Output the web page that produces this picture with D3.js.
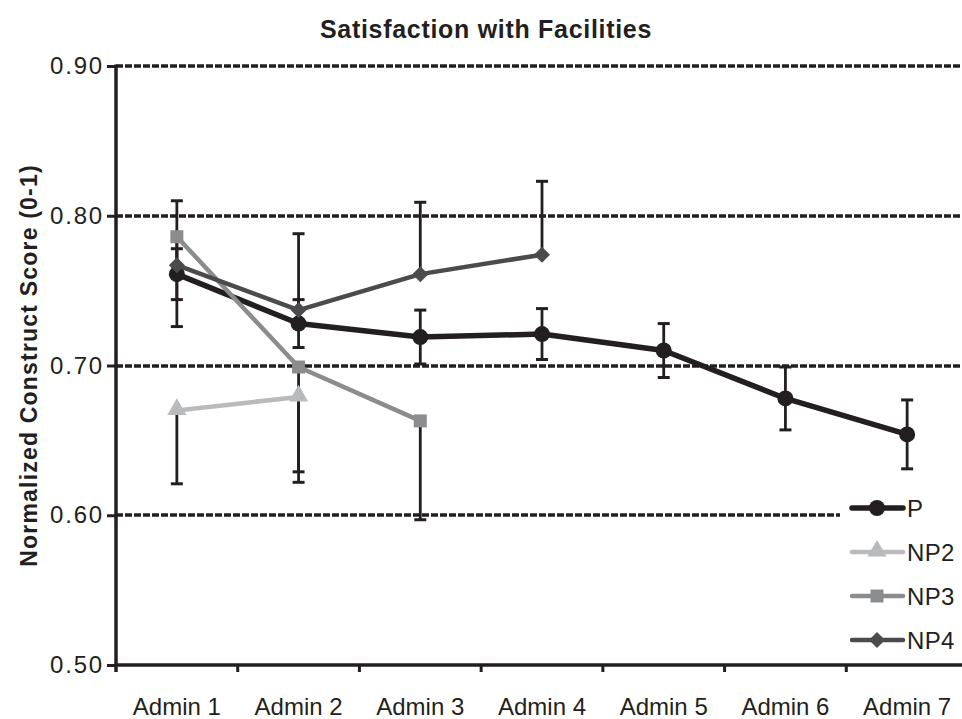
<!DOCTYPE html>
<html>
<head>
<meta charset="utf-8">
<script src="https://cdn.jsdelivr.net/npm/d3@7/dist/d3.min.js"></script>
<style>
  html, body { margin: 0; padding: 0; background: #fff; }
  svg { display: block; font-family: "Liberation Sans", Arial, Helvetica, sans-serif; }
</style>
</head>
<body>
<svg id="chart" width="962" height="719"></svg>
<script>
// ---- data ----
const categories = ["Admin 1", "Admin 2", "Admin 3", "Admin 4", "Admin 5", "Admin 6", "Admin 7"];
const yTicks = [0.50, 0.60, 0.70, 0.80, 0.90];

const seriesNames = ["P", "NP2", "NP3", "NP4"];
const valuesP   = [0.761, 0.728, 0.719, 0.721, 0.710, 0.678, 0.654];
const errP      = [0.017, 0.016, 0.018, 0.017, 0.018, 0.021, 0.023];   // symmetric
const valuesNP2 = [0.670, 0.679];
const errNP2    = [0.049, 0.050];                                        // minus only
const valuesNP3 = [0.786, 0.699, 0.663];
const errNP3    = [0.060, 0.077, 0.066];                                 // minus only
const valuesNP4 = [0.767, 0.737, 0.761, 0.774];
const errNP4    = [0.043, 0.051, 0.048, 0.049];                          // plus only

const series = [
  { name: seriesNames[0], values: valuesP,   err: errP,   dir: "both",  color: "#231f20", width: 5.5, marker: "circle" },
  { name: seriesNames[1], values: valuesNP2, err: errNP2, dir: "minus", color: "#b9babc", width: 4.5, marker: "triangle" },
  { name: seriesNames[2], values: valuesNP3, err: errNP3, dir: "minus", color: "#8b8c8e", width: 4.5, marker: "square" },
  { name: seriesNames[3], values: valuesNP4, err: errNP4, dir: "plus",  color: "#4b4b4d", width: 4.5, marker: "diamond" }
];

// ---- layout ----
const svg = d3.select("#chart");
const plotLeft = 116, plotRight = 968, plotTop = 66, plotBottom = 665, visibleRight = 962;
const ink = "#231f20";

const x = d3.scaleBand().domain(categories).range([plotLeft, plotRight]);
const y = d3.scaleLinear().domain([0.5, 0.9]).range([plotBottom, plotTop]);
const cx = c => x(c) + x.bandwidth() / 2;

// title
svg.append("text")
  .attr("x", 486).attr("y", 38)
  .attr("text-anchor", "middle")
  .attr("font-size", 25).attr("font-weight", "bold")
  .attr("letter-spacing", 0.7)
  .attr("fill", ink)
  .text("Satisfaction with Facilities");

// y axis title
svg.append("text")
  .attr("transform", `translate(37, ${(plotTop + plotBottom) / 2}) rotate(-90)`)
  .attr("text-anchor", "middle")
  .attr("font-size", 23).attr("font-weight", "bold")
  .attr("letter-spacing", 1.2)
  .attr("fill", ink)
  .text("Normalized Construct  Score (0-1)");

// gridlines (dashed)
svg.append("g").selectAll("line")
  .data(yTicks.filter(t => t > 0.5))
  .join("line")
  .attr("x1", plotLeft).attr("x2", visibleRight)
  .attr("y1", d => Math.round(y(d))).attr("y2", d => Math.round(y(d)))
  .attr("stroke", ink).attr("stroke-width", 3.5)
  .attr("stroke-dasharray", "7,2");

// y axis
const yAxis = svg.append("g")
  .attr("transform", `translate(${plotLeft},0)`)
  .call(d3.axisLeft(y).tickValues(yTicks).tickFormat(d3.format(".2f")).tickSize(9).tickPadding(3));
yAxis.select(".domain").remove();
yAxis.selectAll(".tick line").attr("stroke", ink).attr("stroke-width", 3);
yAxis.selectAll(".tick text")
  .attr("font-size", 24).attr("fill", ink)
  .attr("letter-spacing", 1.8)
  .attr("font-family", "'Liberation Sans', Arial, sans-serif");
svg.append("line")
  .attr("x1", plotLeft).attr("x2", plotLeft)
  .attr("y1", plotTop - 1.5).attr("y2", plotBottom + 7)
  .attr("stroke", ink).attr("stroke-width", 3.5);

// x axis
svg.append("line")
  .attr("x1", plotLeft).attr("x2", visibleRight)
  .attr("y1", plotBottom).attr("y2", plotBottom)
  .attr("stroke", ink).attr("stroke-width", 3.5);
svg.append("g").selectAll("line")
  .data(categories.slice(1))
  .join("line")
  .attr("x1", d => x(d)).attr("x2", d => x(d))
  .attr("y1", plotBottom).attr("y2", plotBottom + 7)
  .attr("stroke", ink).attr("stroke-width", 3);
svg.append("g").selectAll("text")
  .data(categories)
  .join("text")
  .attr("x", d => cx(d)).attr("y", 715)
  .attr("text-anchor", "middle")
  .attr("font-size", 24).attr("fill", ink)
  .text(d => d);

// error bars
const capHalf = 6;
const errG = svg.append("g");
series.forEach(s => {
  s.values.forEach((v, i) => {
    const e = s.err[i];
    const hi = s.dir === "minus" ? v : v + e;
    const lo = s.dir === "plus" ? v : v - e;
    const xc = cx(categories[i]);
    errG.append("line")
      .attr("x1", xc).attr("x2", xc).attr("y1", y(hi)).attr("y2", y(lo))
      .attr("stroke", ink).attr("stroke-width", 2.8);
    if (s.dir !== "minus")
      errG.append("line").attr("x1", xc - capHalf).attr("x2", xc + capHalf)
        .attr("y1", y(hi)).attr("y2", y(hi)).attr("stroke", ink).attr("stroke-width", 3);
    if (s.dir !== "plus")
      errG.append("line").attr("x1", xc - capHalf).attr("x2", xc + capHalf)
        .attr("y1", y(lo)).attr("y2", y(lo)).attr("stroke", ink).attr("stroke-width", 3);
  });
});

// marker shapes
const symbolFor = {
  circle:   d3.symbol().type(d3.symbolCircle).size(Math.PI * 8 * 8),
  triangle: d3.symbol().type(d3.symbolTriangle).size(160),
  square:   d3.symbol().type(d3.symbolSquare).size(169),
  diamond:  d3.symbol().type(d3.symbolSquare).size(128)
};
function drawMarker(g, s, px, py) {
  const p = g.append("path")
    .attr("d", symbolFor[s.marker]())
    .attr("fill", s.color);
  if (s.marker === "diamond") p.attr("transform", `translate(${px},${py}) rotate(45)`);
  else if (s.marker === "triangle") p.attr("transform", `translate(${px},${py - 1})`);
  else p.attr("transform", `translate(${px},${py})`);
}

// lines and markers
const line = d3.line().x((d, i) => cx(categories[i])).y(d => y(d));
series.forEach(s => {
  const g = svg.append("g");
  g.append("path")
    .datum(s.values)
    .attr("d", line)
    .attr("fill", "none")
    .attr("stroke", s.color)
    .attr("stroke-width", s.width)
    .attr("stroke-linejoin", "round");
  s.values.forEach((v, i) => drawMarker(g, s, cx(categories[i]), y(v)));
});

// legend
const legend = svg.append("g");
legend.append("rect")
  .attr("x", 840).attr("y", 484).attr("width", 130).attr("height", 174)
  .attr("fill", "#fff");
series.forEach((s, i) => {
  const ly = 508 + i * 44;
  legend.append("line")
    .attr("x1", 852).attr("x2", 903).attr("y1", ly).attr("y2", ly)
    .attr("stroke", s.color).attr("stroke-width", s.width).attr("stroke-linecap", "round");
  drawMarker(legend, s, 877, ly);
  legend.append("text")
    .attr("x", 907).attr("y", ly + 9)
    .attr("font-size", 24).attr("fill", ink)
    .attr("letter-spacing", 0.3)
    .text(s.name);
});
</script>
</body>
</html>
